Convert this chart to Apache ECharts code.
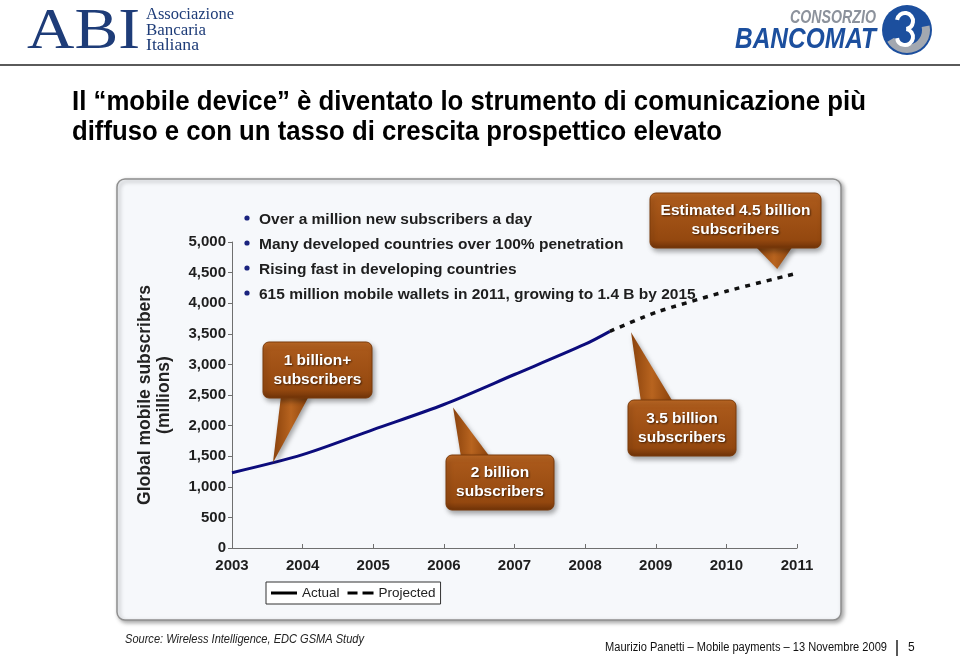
<!DOCTYPE html>
<html><head><meta charset="utf-8">
<script src="https://cdn.jsdelivr.net/npm/echarts@6/dist/echarts.min.js"></script>
<style>html,body{margin:0;padding:0;background:#fff}#c{width:960px;height:656px}</style>
</head><body><div id="c"></div>
<script>
// ---- data ----
const yearMin = 2003, yearMax = 2011;
const actualYears = [2003, 2004, 2005, 2006, 2007, 2008, 2008.35];
const actualValues = [1230, 1525, 1935, 2345, 2835, 3330, 3540];
const projectedYears = [2008.35, 2009, 2010, 2011];
const projectedValues = [3540, 3850, 4195, 4490];
const seriesNames = ['Actual', 'Projected'];
const bullets = [
  'Over a million new subscribers a day',
  'Many developed countries over 100% penetration',
  'Rising fast in developing countries',
  '615 million mobile wallets in 2011, growing to 1.4 B by 2015'
];
const calloutLines = [
  ['1 billion+', 'subscribers'],
  ['2 billion', 'subscribers'],
  ['3.5 billion', 'subscribers'],
  ['Estimated 4.5 billion', 'subscribers']
];
const calloutYears = [2003.58, 2006.13, 2008.65, 2010.72];
const calloutValues = [1393, 2295, 3525, 4557];
const titleLines = [
  'Il \u201cmobile device\u201d \u00e8 diventato lo strumento di comunicazione pi\u00f9',
  'diffuso e con un tasso di crescita prospettico elevato'
];
const yAxisName = 'Global mobile subscribers\n(millions)';
const sourceText = 'Source: Wireless Intelligence, EDC GSMA Study';
const footerText = 'Maurizio Panetti \u2013 Mobile payments \u2013 13 Novembre 2009';
const pageNumber = '5';

// ---- layout (pixels) ----
const boxes = [
  {x:263, y:342, w:109, h:56, b0:281, b1:309, side:'bottom'},
  {x:446, y:455, w:108, h:55, b0:461, b1:490, side:'top'},
  {x:628, y:400, w:108, h:56, b0:641, b1:673, side:'top'},
  {x:650, y:193, w:171, h:55, b0:755, b1:793, side:'bottom'}
];

const F = "'Liberation Sans', Arial, sans-serif";
const FS = "'Liberation Serif', 'Times New Roman', serif";
const mctx = document.createElement('canvas').getContext('2d');
function measure(t, font){ mctx.font = font; return mctx.measureText(t).width; }
function fitText(t, font, x, y, w, fill, extra){
  const s = w / measure(t, font);
  return Object.assign({type:'text', x:x, y:y, scaleX:s, z:50,
    style:{text:t, font:font, fill:fill, textAlign:'left', textVerticalAlign:'middle'}}, extra||{});
}

const chart = echarts.init(document.getElementById('c'), null, {renderer:'canvas'});
const zip = (a,b) => a.map((v,i)=>[v,b[i]]);

const option = {
  backgroundColor:'#ffffff',
  animation:false,
  grid:{left:232, right:163, top:242, bottom:108},
  xAxis:{type:'value', min:yearMin, max:yearMax, interval:1,
    axisLine:{show:true, lineStyle:{color:'#6f6f6f', width:1}},
    axisTick:{show:true, inside:true, length:4, lineStyle:{color:'#6f6f6f'}},
    axisLabel:{margin:10, color:'#1e1e1e', fontFamily:F, fontWeight:'bold', fontSize:15, formatter:v=>String(v)},
    splitLine:{show:false}},
  yAxis:{type:'value', min:0, max:5000, interval:500,
    axisLine:{show:true, lineStyle:{color:'#6f6f6f', width:1}},
    axisTick:{show:true, inside:false, length:4, lineStyle:{color:'#6f6f6f'}},
    axisLabel:{margin:6, color:'#1e1e1e', fontFamily:F, fontWeight:'bold', fontSize:15,
      formatter:v=>v.toLocaleString('en-US')},
    splitLine:{show:false},
    name:yAxisName, nameLocation:'middle', nameGap:58, nameRotate:90,
    nameTextStyle:{color:'#222', fontFamily:F, fontWeight:'bold', fontSize:17.5, lineHeight:19}},
  legend:{left:266, top:582, orient:'horizontal', backgroundColor:'#fff', borderColor:'#333', borderWidth:1,
    padding:[4,5,4,5], itemGap:8, itemWidth:26, itemHeight:3,
    textStyle:{color:'#222', fontFamily:F, fontSize:13.5},
    data:[{name:seriesNames[0], icon:'rect', itemStyle:{color:'#000'}},
          {name:seriesNames[1], icon:'path://M0,0H10V3H0Z M15,0H26V3H15Z', itemStyle:{color:'#000'}}]},
  series:[
    {type:'line', name:seriesNames[0], data:zip(actualYears, actualValues), smooth:0.3, symbol:'none',
     lineStyle:{color:'#0c0c7c', width:3}, itemStyle:{color:'#0c0c7c'}, z:3},
    {type:'line', name:seriesNames[1], data:zip(projectedYears, projectedValues), smooth:0.2, symbol:'none',
     lineStyle:{color:'#111', width:3.5, type:[5,6]}, itemStyle:{color:'#111'}, z:3}
  ]
};
chart.setOption(option);

// ---- graphics ----
const g = [];
// panel
g.push({type:'rect', shape:{x:117, y:179, width:724, height:441, r:8}, z:-10,
  style:{fill:'#f6f8fb', stroke:'#8f8f8f', lineWidth:1.5, shadowBlur:4, shadowOffsetX:2, shadowOffsetY:2, shadowColor:'rgba(0,0,0,0.35)'}});
// header line
g.push({type:'line', shape:{x1:0, y1:65, x2:960, y2:65}, style:{stroke:'#5a5a5a', lineWidth:2}});
// ABI logo
g.push(fitText('ABI', "58px "+FS, 27, 33, 113, '#1e3c78'));
g.push(fitText('Associazione', "16px "+FS, 146, 15, 88, '#1e3c78'));
g.push(fitText('Bancaria', "16px "+FS, 146, 31, 60, '#1e3c78'));
g.push(fitText('Italiana', "16px "+FS, 146, 46, 53, '#1e3c78'));
// Bancomat logo
g.push(fitText('CONSORZIO', "italic bold 19px "+F, 790, 18, 86, '#8c929c'));
g.push(fitText('BANCOMAT', "italic bold 29px "+F, 735, 40, 141, '#1c4f9e'));
g.push({type:'circle', shape:{cx:907, cy:30, r:25}, style:{fill:'#1c4f9e'}});
g.push({type:'arc', shape:{cx:907, cy:30, r:19, startAngle:-0.2, endAngle:2.6}, style:{stroke:'#a3a8b0', lineWidth:8, fill:null}});
g.push({type:'arc', shape:{cx:905, cy:21, r:8, startAngle:-3.0, endAngle:1.4}, style:{stroke:'#fff', lineWidth:4, fill:null}});
g.push({type:'arc', shape:{cx:905, cy:37, r:8, startAngle:-1.4, endAngle:3.0}, style:{stroke:'#fff', lineWidth:4, fill:null}});
// title
g.push(fitText(titleLines[0], "bold 27px "+F, 72, 103, 794, '#000'));
g.push(fitText(titleLines[1], "bold 27px "+F, 72, 133, 650, '#000'));
// bullets
const bulletY = [220, 245, 270, 295];
bullets.forEach((t,i)=>{
  g.push({type:'circle', shape:{cx:247, cy:bulletY[i]-2, r:2.6}, z:50, style:{fill:'#1a237e'}});
  g.push({type:'text', x:259, y:bulletY[i], z:50,
    style:{text:t, font:"bold 15.5px "+F, fill:'#1e1e1e', textAlign:'left', textVerticalAlign:'middle'}});
});
// callouts
const boxFill = new echarts.graphic.LinearGradient(0,0,0,1,[
  {offset:0, color:'#bf6a25'},{offset:0.15, color:'#a9581a'},{offset:0.85, color:'#94480f'},{offset:1, color:'#6e3208'}]);
const ptrFill = new echarts.graphic.LinearGradient(0,0,1,0,[
  {offset:0, color:'#8a420c'},{offset:0.5, color:'#b8641f'},{offset:1, color:'#8a420c'}]);
calloutLines.forEach((lines,i)=>{
  const b = boxes[i];
  const tip = chart.convertToPixel({gridIndex:0}, [calloutYears[i], calloutValues[i]]);
  const sy = b.side === 'bottom' ? b.y + b.h - 2 : b.y + 2;
  g.push({type:'polygon', z:60, shape:{points:[[b.b0, sy],[b.b1, sy],tip]},
    style:{fill:ptrFill, shadowBlur:5, shadowOffsetX:2, shadowOffsetY:3, shadowColor:'rgba(0,0,0,0.35)'}});
  g.push({type:'rect', z:61, shape:{x:b.x, y:b.y, width:b.w, height:b.h, r:6},
    style:{fill:boxFill, stroke:'#7a3a0a', lineWidth:1, shadowBlur:5, shadowOffsetX:2, shadowOffsetY:3, shadowColor:'rgba(0,0,0,0.35)'}});
  const cx = b.x + b.w/2, cy = b.y + b.h/2;
  lines.forEach((t,k)=>{
    g.push({type:'text', z:62, x:cx, y:cy + (k===0?-9.5:9.5),
      style:{text:t, font:"bold 15.5px "+F, fill:'#fff', textAlign:'center', textVerticalAlign:'middle',
        textShadowColor:'rgba(40,15,0,0.8)', textShadowBlur:2, textShadowOffsetX:1, textShadowOffsetY:1}});
  });
});
// footer
g.push(fitText(sourceText, "italic 12px "+F, 125, 640, 239, '#222'));
g.push(fitText(footerText, "12px "+F, 605, 648, 282, '#111'));
g.push({type:'line', shape:{x1:897, y1:640, x2:897, y2:656}, style:{stroke:'#222', lineWidth:1.5}});
g.push({type:'text', x:908, y:648, style:{text:pageNumber, font:"12px "+F, fill:'#111', textAlign:'left', textVerticalAlign:'middle'}});

chart.setOption({graphic:{elements:g}});
</script></body></html>
